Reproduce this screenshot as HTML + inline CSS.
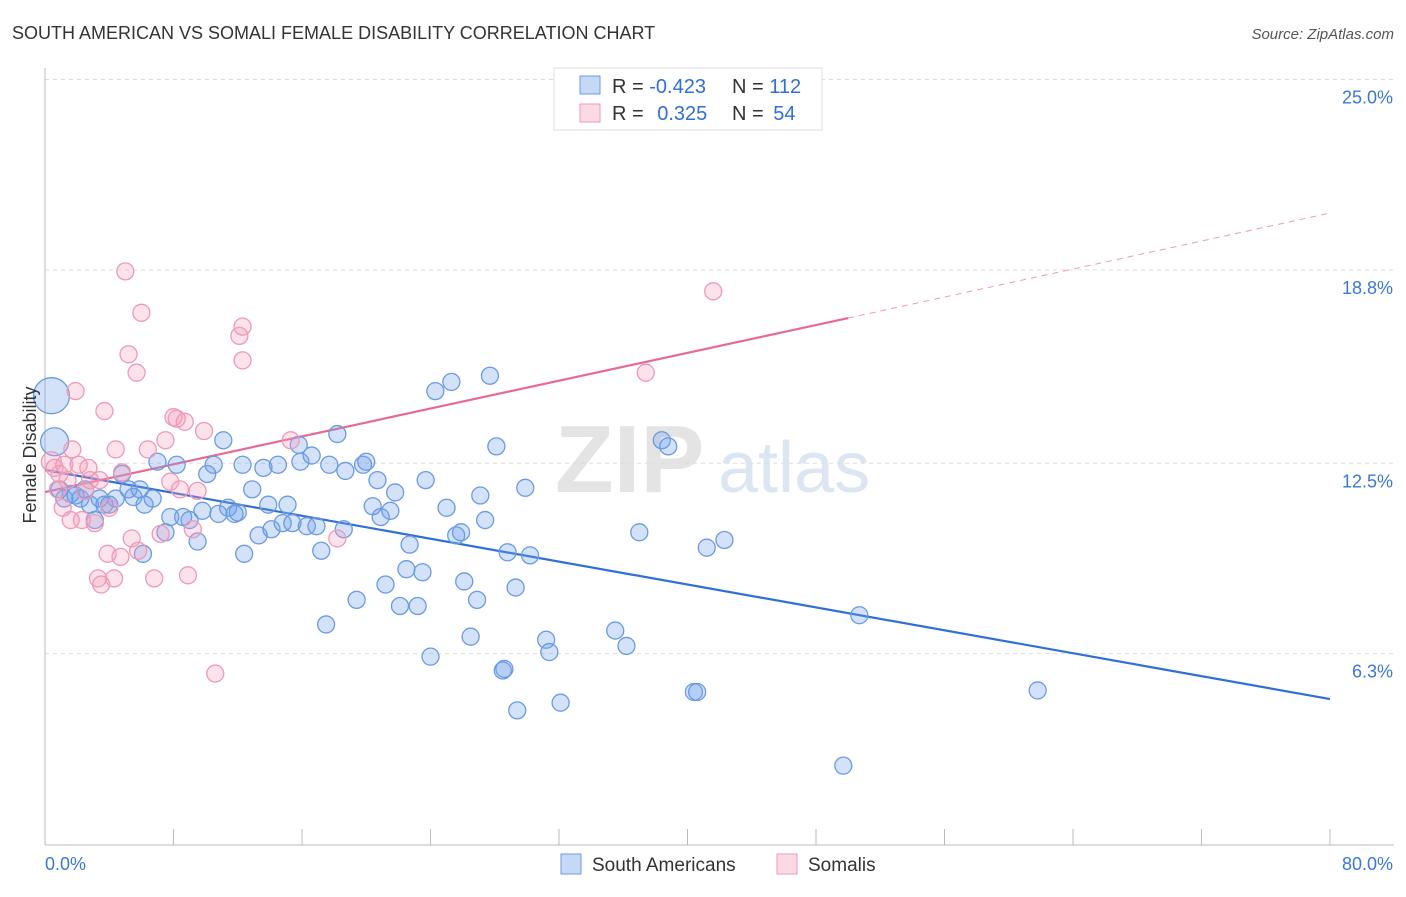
<!DOCTYPE html>
<html><head><meta charset="utf-8">
<style>
body{margin:0;background:#fff;font-family:"Liberation Sans",sans-serif;}
svg text{font-family:"Liberation Sans",sans-serif;}
</style></head>
<body>
<svg id="chart" width="1406" height="892" viewBox="0 0 1406 892" xmlns="http://www.w3.org/2000/svg">
<text x="12" y="39" font-size="18" fill="#333">SOUTH AMERICAN VS SOMALI FEMALE DISABILITY CORRELATION CHART</text>
<text x="1394" y="39" font-size="15" fill="#555" font-style="italic" text-anchor="end">Source: ZipAtlas.com</text>
<g>
<text x="555" y="492" font-size="96" fill="#e4e4e4" font-family="Liberation Serif" font-weight="bold">ZIP</text>
<text x="718" y="492" font-size="72" fill="#dce6f3">atlas</text>
</g>
<g id="grid"></g>
<g id="axes"></g>
<g id="trends"></g>
<g id="points"></g>
<text x="36" y="455" font-size="18" fill="#333" text-anchor="middle" transform="rotate(-90 36 455)">Female Disability</text>
<g>
<rect x="554" y="68" width="268" height="62" fill="#fff" stroke="#ddd"/>
<rect x="580" y="76" width="20" height="18" fill="rgba(110,160,235,0.4)" stroke="#6a9be0"/>
<rect x="580" y="104" width="20" height="18" fill="rgba(245,160,190,0.4)" stroke="#ee9ab5"/>
<text x="612" y="93" font-size="20" fill="#333">R = <tspan fill="#2f6fd6">-0.423</tspan></text>
<text x="732" y="93" font-size="20" fill="#333">N = <tspan fill="#2f6fd6">112</tspan></text>
<text x="612" y="120" font-size="20" fill="#333">R = <tspan fill="#2f6fd6" dx="8">0.325</tspan></text>
<text x="732" y="120" font-size="20" fill="#333">N = <tspan fill="#2f6fd6" dx="4">54</tspan></text>
</g>
<g>
<rect x="561" y="854" width="20" height="20" fill="rgba(110,160,235,0.4)" stroke="#6a9be0"/>
<text x="592" y="871" font-size="19" fill="#333">South Americans</text>
<rect x="777" y="854" width="20" height="20" fill="rgba(245,160,190,0.4)" stroke="#ee9ab5"/>
<text x="808" y="871" font-size="19" fill="#333">Somalis</text>
</g>
</svg>
<script>
const yTicks = [6.3, 12.5, 18.8, 25.0];
const yTickLabels = ["6.3%", "12.5%", "18.8%", "25.0%"];
const xTicks = [0, 8, 16, 24, 32, 40, 48, 56, 64, 72, 80];
const xTickLabels = ["0.0%", "80.0%"];
const blueX = [0.4,0.6,0.9,1.2,1.6,1.9,2.2,2.5,2.8,3.1,3.4,3.7,4.0,4.4,4.8,5.2,5.5,5.9,6.2,6.1,6.7,7.0,7.5,7.8,8.2,8.6,9.0,9.5,9.8,10.1,10.5,10.8,11.1,11.4,11.8,12.0,12.3,12.4,12.9,13.3,13.6,13.9,14.1,14.5,14.8,15.1,15.4,15.8,15.9,16.3,16.6,16.9,17.2,17.5,17.7,18.2,18.6,18.7,19.4,19.8,20.0,20.4,20.7,20.9,21.2,21.5,21.8,22.1,22.5,22.7,23.2,23.5,23.7,24.0,24.3,25.0,25.3,25.6,25.9,26.1,26.5,26.9,27.1,27.4,27.7,28.1,28.5,28.6,28.8,29.3,29.4,29.9,30.2,31.2,31.4,32.1,35.5,36.2,37.0,38.4,38.8,40.4,40.6,41.2,42.3,49.7,50.7,61.8];
const blueY = [14.7,13.2,11.65,11.35,11.5,11.45,11.35,11.65,11.15,10.65,11.35,11.15,11.15,11.35,12.15,11.65,11.4,11.65,11.15,9.55,11.35,12.55,10.25,10.75,12.45,10.75,10.65,9.95,10.95,12.15,12.45,10.85,13.25,11.05,10.85,10.9,12.45,9.55,11.65,10.15,12.35,11.15,10.35,12.45,10.55,11.15,10.55,13.1,12.55,10.45,12.75,10.45,9.65,7.25,12.45,13.45,10.35,12.25,8.05,12.45,12.55,11.1,11.95,10.75,8.55,10.95,11.55,7.85,9.05,9.85,7.85,8.95,11.95,6.2,14.85,11.05,15.15,10.15,10.25,8.65,6.85,8.05,11.45,10.65,15.35,13.05,5.75,5.8,9.6,8.45,4.45,11.7,9.5,6.75,6.35,4.7,7.05,6.55,10.25,13.25,13.05,5.05,5.05,9.75,10.0,2.65,7.55,5.1];
const blueR = [18,14];
const pinkX = [0.4,0.6,0.8,1.1,1.2,1.4,1.7,1.9,2.1,2.3,2.5,2.8,3.1,3.3,3.5,3.7,4.0,4.3,4.4,4.7,4.8,5.0,5.2,5.4,5.7,5.8,6.0,6.4,6.8,7.2,7.5,7.8,8.0,8.2,8.4,8.7,8.9,9.2,9.5,9.9,10.6,12.1,12.3,12.3,15.3,18.2,37.4,41.6,3.4,2.7,0.9,1.6,3.9];
const pinkY = [12.55,12.35,11.65,11.05,12.45,11.95,12.95,14.85,12.45,10.65,11.6,11.95,10.55,8.75,8.55,14.2,11.05,8.75,12.95,9.45,12.2,18.75,16.05,10.05,15.45,9.65,17.4,12.95,8.75,10.2,13.25,11.9,14.0,13.95,11.65,13.85,8.85,10.35,11.6,13.55,5.65,16.65,16.95,15.85,13.25,10.05,15.45,18.1,11.95,12.35,12.15,10.65,9.55];
const blueTrendX = [0, 80];
const blueTrendY = [12.28, 4.82];
const pinkTrendX = [0, 50, 80];
const pinkTrendY = [11.56, 17.23, 20.65];

const NS = "http://www.w3.org/2000/svg";
const X0 = 45, X1 = 1330, Y0 = 847, PY = 30.7;
function sx(v){ return X0 + (v/80)*(X1-X0); }
function sy(v){ return Y0 - v*PY; }
function mk(tag, attrs, parent){
  const e = document.createElementNS(NS, tag);
  for (const k in attrs) e.setAttribute(k, attrs[k]);
  parent.appendChild(e); return e;
}
const grid = document.getElementById('grid');
const axes = document.getElementById('axes');
const trends = document.getElementById('trends');
const pts = document.getElementById('points');

yTicks.forEach((t,i)=>{
  const l = mk('line',{x1:X0,x2:1394,y1:sy(t),y2:sy(t),stroke:'#ddd','stroke-dasharray':'4 4'},grid);
  
  
  const tx = mk('text',{x:1393,y:sy(t)+24,'font-size':18,fill:'#3a78d4','text-anchor':'end'},axes);
  tx.textContent = yTickLabels[i];
  
  
});
const ax = mk('line',{x1:X0,x2:1394,y1:845,y2:845,stroke:'#bbb'},axes);


const ay = mk('line',{x1:X0,x2:X0,y1:68,y2:845,stroke:'#bbb'},axes);


xTicks.forEach(t=>{
  const l = mk('line',{x1:sx(t),x2:sx(t),y1:829,y2:845,stroke:'#bbb'},axes);
  
  
});
const xl0 = mk('text',{x:45,y:870,'font-size':18,fill:'#3a78d4'},axes);
xl0.textContent = xTickLabels[0];


const xl1 = mk('text',{x:1393,y:870,'font-size':18,fill:'#3a78d4','text-anchor':'end'},axes);
xl1.textContent = xTickLabels[1];



blueX.forEach((x,i)=>{
  const c = mk('circle',{cx:sx(x),cy:sy(blueY[i]),r:blueR[i]||8.5,fill:'rgba(110,160,235,0.3)',stroke:'#6a9be0','stroke-width':1.3},pts);
  
  
});
pinkX.forEach((x,i)=>{
  const c = mk('circle',{cx:sx(x),cy:sy(pinkY[i]),r:i===0?10:8.5,fill:'rgba(245,160,190,0.3)',stroke:'#ee9ab5','stroke-width':1.3},pts);
  
  
});
const bt = mk('line',{x1:sx(blueTrendX[0]),y1:sy(blueTrendY[0]),x2:sx(blueTrendX[1]),y2:sy(blueTrendY[1]),stroke:'#2f6fd6','stroke-width':2.2},trends);


const pt = mk('line',{x1:sx(pinkTrendX[0]),y1:sy(pinkTrendY[0]),x2:sx(pinkTrendX[1]),y2:sy(pinkTrendY[1]),stroke:'#e86a94','stroke-width':2.2},trends);


const pd = mk('line',{x1:sx(pinkTrendX[1]),y1:sy(pinkTrendY[1]),x2:sx(pinkTrendX[2]),y2:sy(pinkTrendY[2]),stroke:'#ee9ab5','stroke-width':1,'stroke-dasharray':'6 5'},trends);


</script>
</body></html>
